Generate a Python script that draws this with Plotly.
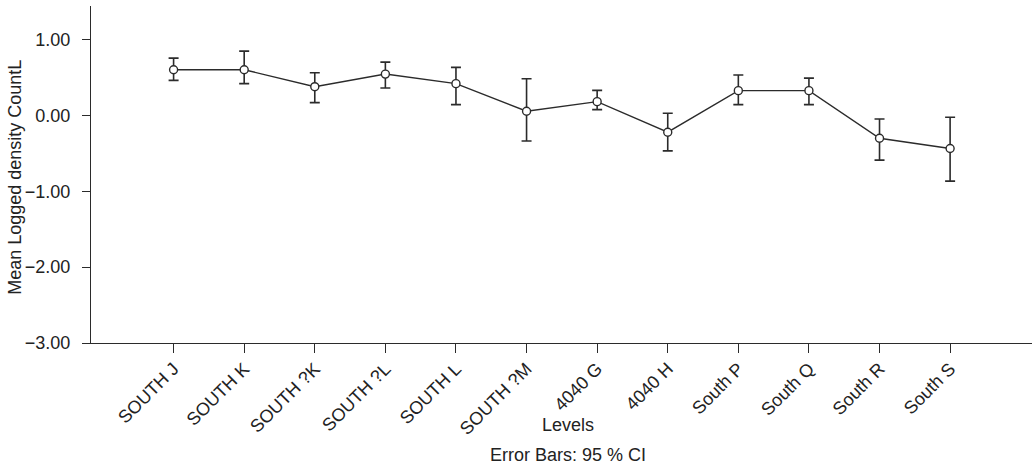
import plotly.graph_objects as go

categories = ["SOUTH J", "SOUTH K", "SOUTH ?K", "SOUTH ?L", "SOUTH L", "SOUTH ?M",
              "4040 G", "4040 H", "South P", "South Q", "South R", "South S"]
means = [0.60, 0.60, 0.377, 0.543, 0.417, 0.053, 0.18, -0.223, 0.325, 0.325, -0.302, -0.438]
ci_upper = [0.753, 0.845, 0.56, 0.70, 0.631, 0.482, 0.329, 0.026, 0.53, 0.49, -0.049, -0.026]
ci_lower = [0.46, 0.417, 0.167, 0.359, 0.141, -0.338, 0.075, -0.469, 0.141, 0.141, -0.591, -0.867]
y_ticks = [1.0, 0.0, -1.0, -2.0, -3.0]
y_ticktext = ["1.00", "0.00", "\u22121.00", "\u22122.00", "\u22123.00"]

xpos = list(range(len(categories)))
err_plus = [u - m for u, m in zip(ci_upper, means)]
err_minus = [m - l for m, l in zip(means, ci_lower)]

ink = "#2b2b2b"
FONT = "Liberation Sans, Arial, Helvetica, sans-serif"

fig = go.Figure()
fig.add_trace(go.Scatter(
    x=xpos, y=means, mode="lines+markers",
    line=dict(color=ink, width=1.4),
    marker=dict(symbol="circle", size=8, color="white", line=dict(color=ink, width=1.4)),
    error_y=dict(type="data", symmetric=False, array=err_plus, arrayminus=err_minus,
                 color=ink, thickness=1.6, width=5),
    showlegend=False,
))

fig.update_layout(
    width=1032, height=470,
    margin=dict(l=91, r=0, t=6, b=127),
    paper_bgcolor="white", plot_bgcolor="white",
    font=dict(family=FONT, size=18, color="#222222"),
    xaxis=dict(
        range=[-1.17, 12.16], tickmode="array", tickvals=xpos, ticktext=categories,
        tickangle=-45, ticks="outside", ticklen=9, tickwidth=1.4, tickcolor=ink,
        showline=True, linecolor=ink, linewidth=1.4, showgrid=False, zeroline=False,
        tickfont=dict(size=18), ticklabelstandoff=-2,
    ),
    yaxis=dict(
        range=[-3.0, 1.44], tickmode="array", tickvals=y_ticks, ticktext=y_ticktext,
        ticks="outside", ticklen=8, tickwidth=1.4, tickcolor=ink,
        showline=True, linecolor=ink, linewidth=1.4, showgrid=False, zeroline=False,
        tickfont=dict(size=18), ticklabelstandoff=8,
    ),
    annotations=[
        dict(text="Levels", xref="paper", yref="paper", x=0.507, y=-0.242,
             xanchor="center", yanchor="middle", showarrow=False, font=dict(size=18)),
        dict(text="Error Bars: 95 % CI", xref="paper", yref="paper", x=0.507, y=-0.331,
             xanchor="center", yanchor="middle", showarrow=False, font=dict(size=18)),
        dict(text="Mean Logged density CountL", xref="paper", yref="paper", x=-0.0808, y=0.493,
             xanchor="center", yanchor="middle", textangle=-90, showarrow=False, font=dict(size=18)),
    ],
)

fig.write_html("out.html")
